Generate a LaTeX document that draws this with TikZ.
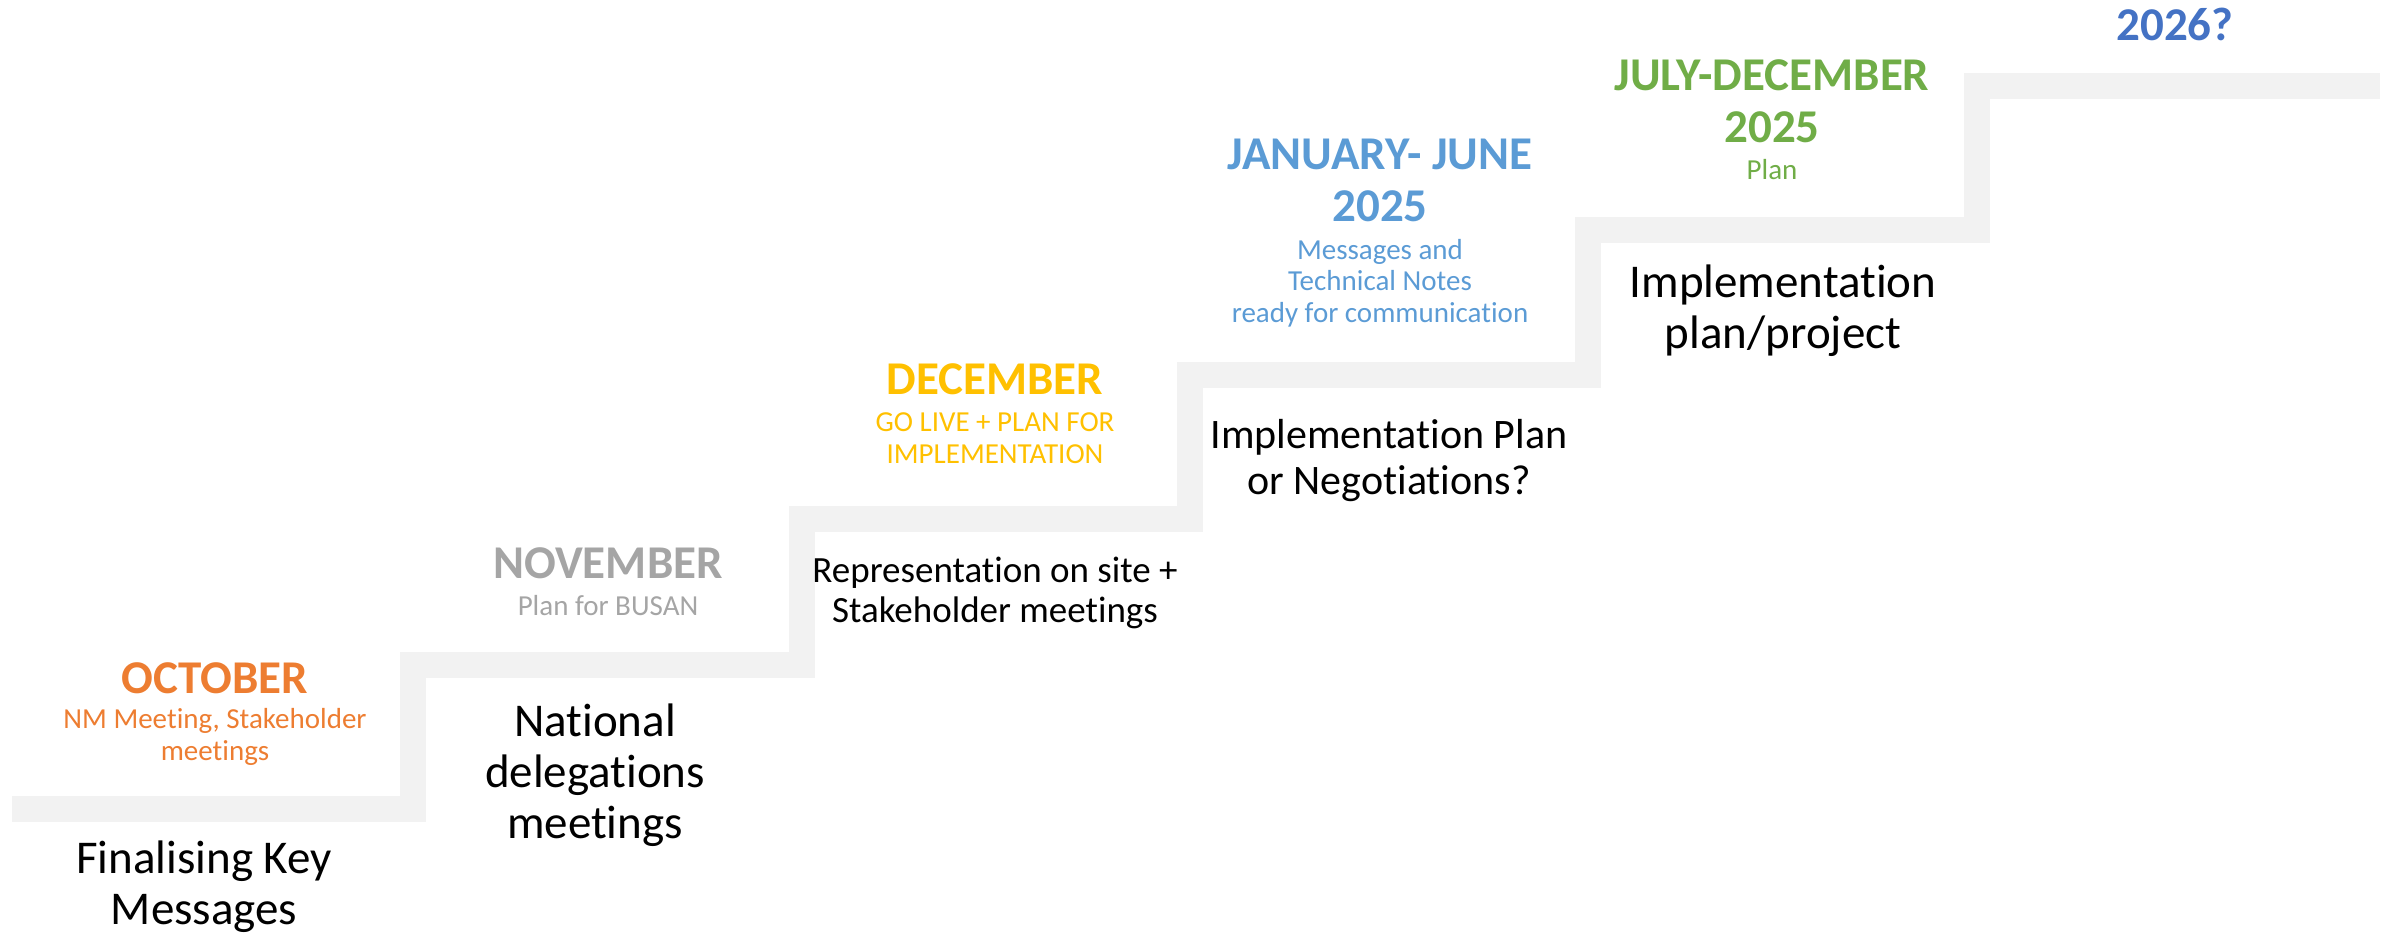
\documentclass[tikz,border=0pt]{standalone}
\usepackage{fontspec}
\setmainfont{Carlito}[Ligatures=NoCommon]
\definecolor{stair}{HTML}{F2F2F2}
\definecolor{cOct}{HTML}{ED7D31}
\definecolor{cNov}{HTML}{A5A5A5}
\definecolor{cDec}{HTML}{FFC000}
\definecolor{cJan}{HTML}{5B9BD5}
\definecolor{cJul}{HTML}{70AD47}
\definecolor{cNext}{HTML}{4472C4}
\begin{document}
% each text block is placed by the baseline of its last line
\begin{tikzpicture}[x=1pt,y=-1pt,
  every node/.style={inner sep=0pt,outer sep=0pt,align=center,anchor=base},
  head/.style={font=\bfseries\fontsize{47}{52}\selectfont},
  sub/.style={font=\fontsize{29}{31.5}\selectfont},
  task/.style={font=\fontsize{47}{51}\selectfont},
  taskmid/.style={font=\fontsize{42}{46}\selectfont},
  tasksmall/.style={font=\fontsize{37}{40}\selectfont},
  stairline/.style={draw=stair,line width=26.5pt,line join=miter,line cap=butt}]
\useasboundingbox (0,0) rectangle (2397,933);

% staircase: treads and risers as one thick polyline
\coordinate (s0) at (12,809);
\coordinate (s1) at (413,809);
\coordinate (s2) at (413,665);
\coordinate (s3) at (802,665);
\coordinate (s4) at (802,519);
\coordinate (s5) at (1190,519);
\coordinate (s6) at (1190,375);
\coordinate (s7) at (1588,375);
\coordinate (s8) at (1588,230);
\coordinate (s9) at (1977,230);
\coordinate (s10) at (1977,86);
\coordinate (s11) at (2380,86);
\draw[stairline] (s0) -- (s1) -- (s2) -- (s3) -- (s4) -- (s5) -- (s6)
  -- (s7) -- (s8) -- (s9) -- (s10) -- (s11);

% October
\node[head,text=cOct] (octH) at (215,693) {OCTOBER};
\node[sub,text=cOct] (octS) at (215,760) {NM Meeting, Stakeholder\\meetings};
\node[task] (octT) at (204,924) {Finalising Key\\Messages};

% November
\node[head,text=cNov] (novH) at (608,578) {NOVEMBER};
\node[sub,text=cNov] (novS) at (608,615) {Plan for BUSAN};
\node[task] (novT) at (595,838) {National\\delegations\\meetings};

% December
\node[head,text=cDec] (decH) at (995,394) {DECEMBER};
\node[sub,text=cDec] (decS) at (995,463) {GO LIVE + PLAN FOR\\IMPLEMENTATION};
\node[tasksmall] (decT) at (995,622) {Representation on site +\\Stakeholder meetings};

% January - June 2025
\node[head,text=cJan] (janH) at (1380,222) {JANUARY- JUNE\\2025};
\node[sub,text=cJan] (janS) at (1380,322) {Messages and\\Technical Notes\\ready for communication};
\node[taskmid] (janT) at (1389,494) {Implementation Plan\\or Negotiations?};

% July - December 2025
\node[head,text=cJul] (julH) at (1772,143) {JULY-DECEMBER\\2025};
\node[sub,text=cJul] (julS) at (1772,180) {Plan};
\node[task] (julT) at (1783,348) {Implementation\\plan/project};

% 2026
\node[head,text=cNext] (nextH) at (2175,41) {2026?};
\end{tikzpicture}
\end{document}
